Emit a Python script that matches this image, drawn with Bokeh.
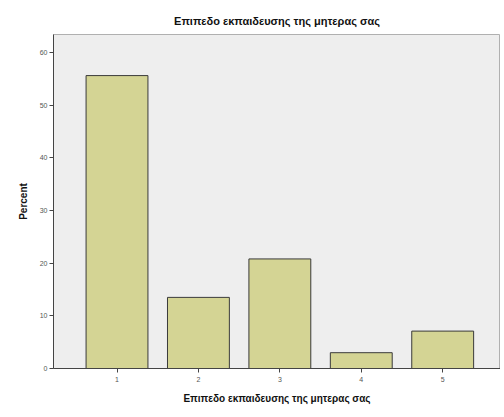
from bokeh.plotting import figure
from bokeh.models import Range1d, FixedTicker, ColumnDataSource
from bokeh.embed import file_html
from bokeh.resources import INLINE

categories = [1, 2, 3, 4, 5]
percent = [55.6, 13.5, 20.8, 3.0, 7.1]
y_ticks = [0, 10, 20, 30, 40, 50, 60]
title_text = "Επιπεδο εκπαιδευσης της μητερας σας"

src = ColumnDataSource(dict(x=categories, top=percent))

p = figure(width=500, height=410, output_backend="svg", toolbar_location=None,
           x_range=Range1d(0.22, 5.71), y_range=Range1d(0, 63.4),
           min_border_left=53, min_border_right=0, min_border_bottom=42, min_border_top=34)

p.vbar(x="x", top="top", width=0.76, source=src, fill_color="#d4d494",
       line_color="#3a3a3a", line_width=1)

FONT = "Liberation Sans"
p.title.text = title_text
p.title.align = "center"
p.title.text_font = FONT
p.title.text_font_size = "11px"
p.title.text_font_style = "bold"
p.title.text_color = "#111111"
p.title.offset = 0
p.title.standoff = 16

p.background_fill_color = "#eeeeee"
p.border_fill_color = "white"
p.outline_line_color = "#b0b0b0"
p.xgrid.visible = False
p.ygrid.visible = False

p.xaxis.ticker = FixedTicker(ticks=categories)
p.yaxis.ticker = FixedTicker(ticks=y_ticks)
for ax in (p.xaxis, p.yaxis):
    ax.axis_line_color = "#444444"
    ax.major_tick_line_color = "#444444"
    ax.major_tick_out = 4
    ax.major_tick_in = 0
    ax.minor_tick_line_color = None
    ax.major_label_text_font = FONT
    ax.major_label_text_font_size = "7px"
    ax.major_label_text_color = "#555555"
    ax.axis_label_text_font = FONT
    ax.axis_label_text_font_style = "bold"
    ax.axis_label_text_font_size = "10px"
    ax.axis_label_text_color = "#111111"
p.xaxis.axis_label = title_text
p.yaxis.axis_label = "Percent"
p.xaxis.major_label_standoff = 4
p.xaxis.axis_label_standoff = 8
p.yaxis.major_label_standoff = 2
p.yaxis.axis_label_standoff = 8

open("out.html", "w").write(file_html(p, INLINE))
